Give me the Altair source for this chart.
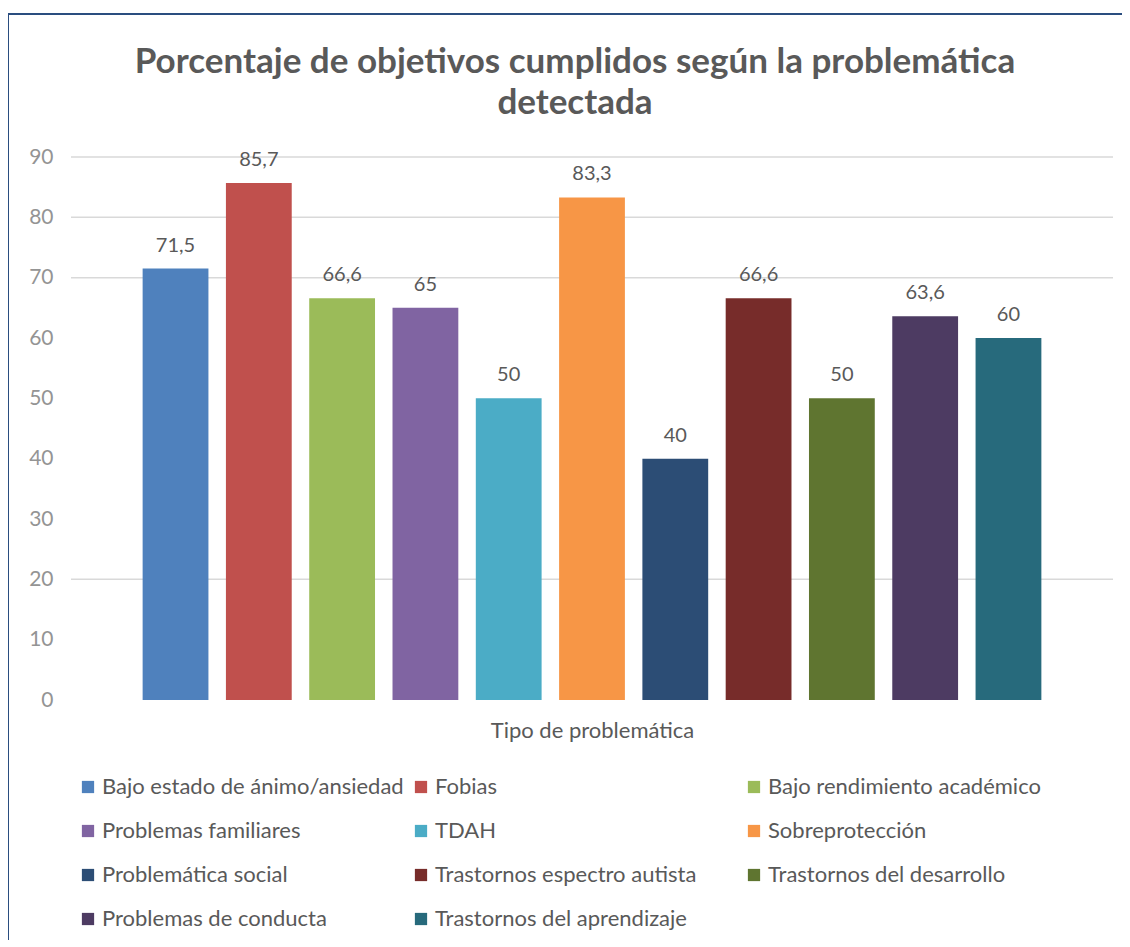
import altair as alt
import pandas as pd

categories = [
    "Bajo estado de ánimo/ansiedad", "Fobias", "Bajo rendimiento académico",
    "Problemas familiares", "TDAH", "Sobreprotección", "Problemática social",
    "Trastornos espectro autista", "Trastornos del desarrollo",
    "Problemas de conducta", "Trastornos del aprendizaje",
]
values = [71.5, 85.7, 66.6, 65, 50, 83.3, 40, 66.6, 50, 63.6, 60]
colors = ["#4F81BD", "#C0504D", "#9BBB59", "#8064A2", "#4BACC6", "#F79646",
          "#2C4D75", "#772C2A", "#5F7530", "#4D3B62", "#276A7C"]
y_ticks = [0, 10, 20, 30, 40, 50, 60, 70, 80, 90]
grid_values = [20, 70, 80, 90]

FONT = "Lato"
W, H = 1042, 543

df = pd.DataFrame({"cat": categories, "val": values})
gdf = pd.DataFrame({"g": grid_values})
one = pd.DataFrame({"a": [0]})

yscale = alt.Scale(domain=[0, 90], nice=False)
xscale = alt.Scale(domain=categories, paddingInner=0.21, paddingOuter=0.86)

grid = alt.Chart(gdf).mark_rule(color="#d9d9d9", strokeWidth=1.5).encode(
    y=alt.Y("g:Q", scale=yscale),
    x=alt.value(0), x2=alt.value(W),
)

bars = alt.Chart(df).mark_bar().encode(
    x=alt.X("cat:N", scale=xscale, sort=categories,
            axis=alt.Axis(title="Tipo de problemática", labels=False, ticks=False,
                          domain=False, grid=False, titleFont=FONT, titleFontSize=22,
                          titleFontWeight="normal", titleColor="#595959",
                          titlePadding=20)),
    y=alt.Y("val:Q", scale=yscale,
            axis=alt.Axis(title=None, values=y_ticks, grid=False, ticks=False,
                          domain=False, labelFont=FONT, labelFontSize=21,
                          labelColor="#949494", labelPadding=18)),
    color=alt.Color("cat:N", sort=categories,
                    scale=alt.Scale(domain=categories, range=colors),
                    legend=alt.Legend(title=None, orient="none", legendX=6, legendY=619,
                                      direction="horizontal",
                                      columns=3, gridAlign="all", columnPadding=6,
                                      rowPadding=22, symbolType="square", symbolSize=150,
                                      symbolStrokeWidth=0, labelFont=FONT,
                                      labelFontSize=22, labelColor="#595959",
                                      labelOffset=3, labelLimit=400)),
)

labels = alt.Chart(df).transform_calculate(
    lab="replace(toString(datum.val), '.', ',')"
).mark_text(font=FONT, fontSize=20, color="#595959", baseline="bottom", dy=-13).encode(
    x=alt.X("cat:N", scale=xscale, sort=categories),
    y=alt.Y("val:Q", scale=yscale),
    text="lab:N",
)

top_border = alt.Chart(one).mark_rule(color="#2a4d7f", strokeWidth=2).encode(
    x=alt.value(-64), x2=alt.value(1070), y=alt.value(-143)
)
left_border = alt.Chart(one).mark_rule(color="#2a4d7f", strokeWidth=2).encode(
    x=alt.value(-63), y=alt.value(-143), y2=alt.value(900)
)

chart = alt.layer(grid, bars, labels, top_border, left_border).properties(
    width=W, height=H,
    background="white",
    autosize=alt.AutoSizeParams(type="none"),
    padding={"left": 63, "top": 149, "right": 9, "bottom": 240},
    title=alt.Title(["Porcentaje de objetivos cumplidos según la problemática", "detectada"],
                    font=FONT, fontSize=35, fontWeight="bold", color="#595959",
                    anchor="middle", frame="group", dx=-17, offset=-108, lineHeight=41),
).configure_view(stroke=None)

chart.save("out.html", embed_options={"renderer": "svg", "actions": False})
